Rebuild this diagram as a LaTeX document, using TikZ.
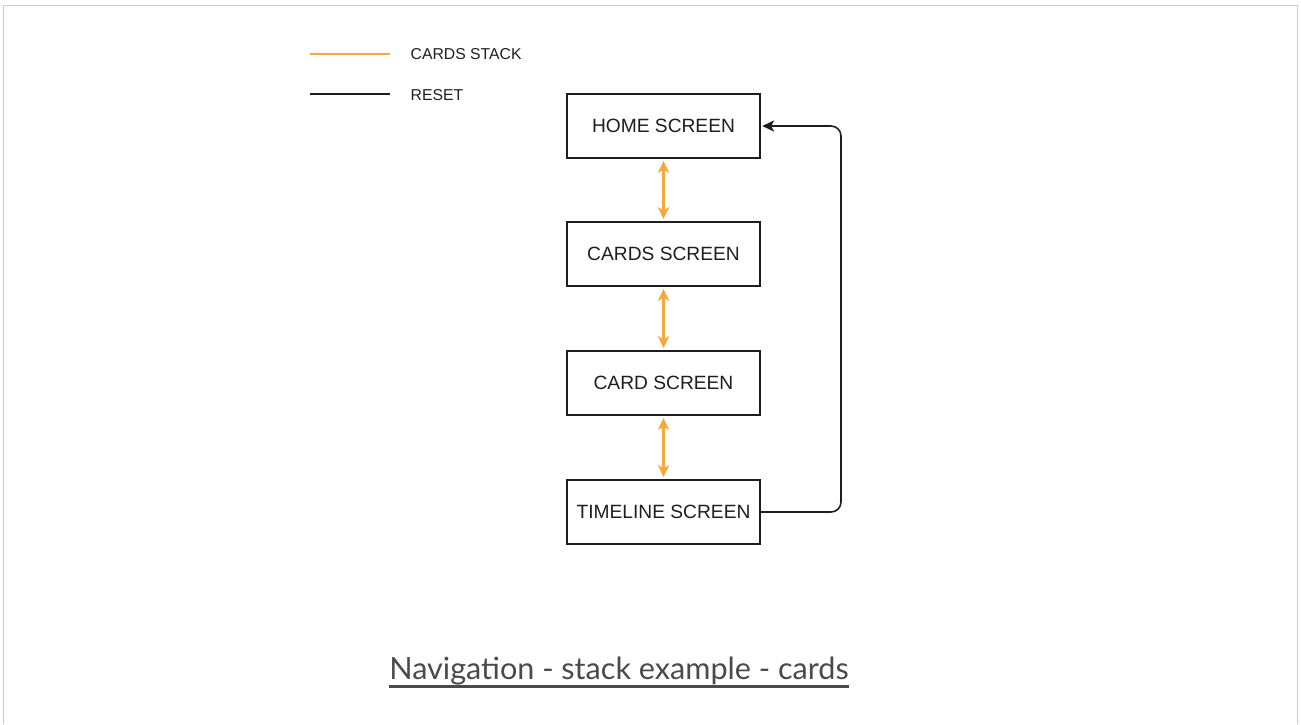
\documentclass[tikz,border=0pt]{standalone}
\usepackage{fontspec}
\setmainfont{Liberation Sans}
\newfontfamily\capfont{Lato}
\usetikzlibrary{arrows.meta}
\definecolor{stackorange}{HTML}{F5A93A}
\definecolor{framegray}{HTML}{CCCCCC}
\definecolor{captiongray}{HTML}{4A4A4A}
\definecolor{inkdark}{HTML}{1E1E1E}
\tikzset{
  screenbox/.style={draw=inkdark, line width=0.45pt, minimum width=1.93cm, minimum height=0.64cm, inner sep=0pt, font=\fontsize{5.46pt}{6pt}\selectfont, text=inkdark},
  legendtext/.style={anchor=west, inner sep=0pt, font=\fontsize{4.48pt}{5pt}\selectfont, text=inkdark},
  stackarrow/.style={draw=stackorange, line width=0.6pt, {Stealth[length=3.4pt,width=3.2pt,inset=0.9pt]}-{Stealth[length=3.4pt,width=3.2pt,inset=0.9pt]}},
  resetarrow/.style={draw=inkdark, line width=0.45pt, rounded corners=0.1cm, -{Stealth[length=3.4pt,width=3.2pt,inset=0.9pt]}},
}
\begin{document}
\begin{tikzpicture}[x=0.01cm, y=-0.01cm]
\useasboundingbox (0,0) rectangle (1301,724);
% frame
\draw[framegray, line width=0.55pt] (3.5,724) -- (3.5,5.5) -- (1297.5,5.5) -- (1297.5,724);
% legend
\coordinate (l1a) at (310,54);
\coordinate (l1b) at (390,54);
\coordinate (l2a) at (310,94);
\coordinate (l2b) at (390,94);
\draw[stackorange, line width=0.45pt] (l1a) -- (l1b);
\draw[inkdark, line width=0.4pt] (l2a) -- (l2b);
\node[legendtext] (lt1) at (410,54) {CARDS STACK};
\node[legendtext] (lt2) at (410,95) {RESET};
% screens
\node[screenbox] (home) at (663.5,126) {HOME SCREEN};
\node[screenbox] (cards) at (663.5,254) {CARDS SCREEN};
\node[screenbox] (card) at (663.5,383) {CARD SCREEN};
\node[screenbox] (timeline) at (663.5,512) {TIMELINE SCREEN};
% stack arrows
\draw[stackarrow] ([yshift=-0.6pt]home.south) -- ([yshift=0.6pt]cards.north);
\draw[stackarrow] ([yshift=-0.6pt]cards.south) -- ([yshift=0.6pt]card.north);
\draw[stackarrow] ([yshift=-0.6pt]card.south) -- ([yshift=0.6pt]timeline.north);
% reset
\draw[resetarrow] (timeline.east) -- (841,512) -- (841,126) -- ([xshift=0.4pt]home.east);
% caption
\node[anchor=base, inner sep=0pt, text=captiongray, font=\capfont\fontsize{8.7pt}{9pt}\selectfont] (cap) at (619,679) {Navigation - stack example - cards};
\draw[captiongray, line width=0.85pt] ([yshift=-2pt]cap.base west) -- ([yshift=-2pt]cap.base east);
\end{tikzpicture}
\end{document}
